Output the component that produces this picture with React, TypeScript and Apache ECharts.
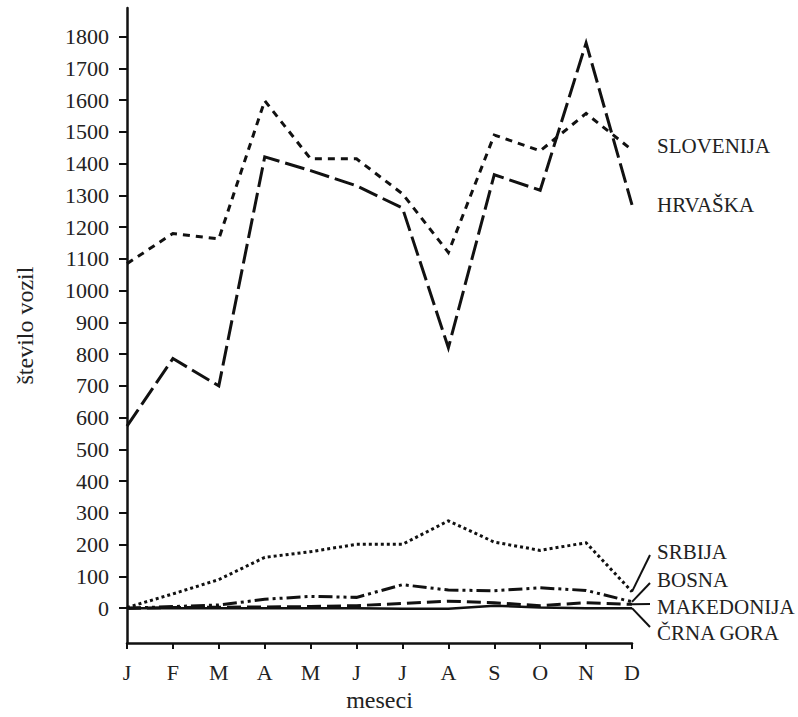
import React, { useEffect, useRef } from "react";
import * as echarts from "echarts";

const months = ["J", "F", "M", "A", "M", "J", "J", "A", "S", "O", "N", "D"];
const yTicks = [0, 100, 200, 300, 400, 500, 600, 700, 800, 900, 1000, 1100, 1200, 1300, 1400, 1500, 1600, 1700, 1800];

const slovenija = [1085, 1180, 1163, 1598, 1415, 1415, 1305, 1120, 1490, 1440, 1558, 1443];
const hrvaska = [573, 786, 700, 1421, 1378, 1330, 1260, 820, 1365, 1316, 1780, 1270];
const srbija = [2, 45, 90, 160, 178, 201, 201, 275, 208, 182, 206, 52];
const bosna = [0, 5, 10, 28, 37, 34, 74, 57, 55, 64, 56, 20];
const makedonija = [0, 2, 3, 4, 5, 8, 15, 22, 17, 8, 17, 12];
const crnaGora = [0, 0, 0, 0, 0, 0, -2, -2, 8, 2, 0, 0];

const FONT = "Liberation Serif, DejaVu Serif, serif";
const INK = "#111";
const TEXT = "#222";

export default function App() {
  const ref = useRef<HTMLDivElement>(null);

  useEffect(() => {
    if (!ref.current) return;
    const chart = echarts.init(ref.current, null, { renderer: "svg" });

    const mkSeries = (name: string, data: number[], type: any, width: number, endLabel?: any) => ({
      name,
      type: "line",
      data,
      symbol: "none",
      lineStyle: { color: INK, width, type, cap: "butt", join: "miter" },
      z: 3,
      endLabel: endLabel || { show: false },
    });

    const endLbl = (offsetY: number) => ({
      show: true,
      formatter: "{a}",
      distance: 25,
      offset: [0, offsetY],
      color: TEXT,
      fontFamily: FONT,
      fontSize: 21,
    });

    chart.setOption({
      animation: false,
      backgroundColor: "#fff",
      textStyle: { fontFamily: FONT },
      grid: { left: 127, right: 166, top: 8, height: 644, containLabel: false },
      xAxis: {
        type: "category",
        data: months,
        boundaryGap: false,
        name: "meseci",
        nameLocation: "middle",
        nameGap: 37,
        nameTextStyle: { color: TEXT, fontFamily: FONT, fontSize: 24 },
        axisLine: { onZero: false, lineStyle: { color: INK, width: 2.5 } },
        axisTick: { show: true, inside: false, length: 6, alignWithLabel: true, lineStyle: { color: INK, width: 2 } },
        axisLabel: { color: TEXT, fontFamily: FONT, fontSize: 22, margin: 18, interval: 0 },
        splitLine: { show: false },
      },
      yAxis: {
        type: "value",
        min: -110,
        max: 1890,
        name: "število vozil",
        nameLocation: "middle",
        nameGap: 90,
        nameTextStyle: { color: TEXT, fontFamily: FONT, fontSize: 24 },
        axisLine: { show: true, lineStyle: { color: INK, width: 2.5 } },
        axisTick: { show: true, inside: false, length: 8, customValues: yTicks, lineStyle: { color: INK, width: 2 } },
        axisLabel: {
          color: TEXT,
          fontFamily: FONT,
          fontSize: 22,
          margin: 18,
          customValues: yTicks,
          formatter: (v: number) => String(v),
        },
        splitLine: { show: false },
      },
      series: [
        mkSeries("SLOVENIJA", slovenija, [7, 6], 3, endLbl(-4)),
        mkSeries("HRVAŠKA", hrvaska, [20, 6], 3, endLbl(0)),
        mkSeries("SRBIJA", srbija, [3, 3], 3),
        mkSeries("BOSNA", bosna, [14, 4, 3, 4, 3, 4], 3),
        mkSeries("MAKEDONIJA", makedonija, [14, 6], 3),
        mkSeries("ČRNA GORA", crnaGora, "solid", 2.5),
      ],
    });

    const callouts = [
      { name: "SRBIJA", idx: 2, data: srbija, textY: 552, end: [650, 555] },
      { name: "BOSNA", idx: 3, data: bosna, textY: 580, end: [650, 583] },
      { name: "MAKEDONIJA", idx: 4, data: makedonija, textY: 607, end: [650, 604] },
      { name: "ČRNA GORA", idx: 5, data: crnaGora, textY: 633, end: [650, 627] },
    ];
    const graphics: any[] = [];
    callouts.forEach((c) => {
      const last = c.data.length - 1;
      const p = chart.convertToPixel({ seriesIndex: c.idx }, [last, c.data[last]]) as number[];
      graphics.push({
        type: "line",
        shape: { x1: p[0], y1: p[1], x2: c.end[0], y2: c.end[1] },
        style: { stroke: INK, lineWidth: 2 },
        z: 10,
      });
      graphics.push({
        type: "text",
        x: 657,
        y: c.textY,
        style: {
          text: c.name,
          fill: TEXT,
          fontFamily: FONT,
          fontSize: 21,
          verticalAlign: "middle",
          align: "left",
        },
        z: 10,
      });
    });
    chart.setOption({ graphic: graphics });

    return () => chart.dispose();
  }, []);

  return (
    <div
      ref={ref}
      style={{ position: "fixed", left: 0, top: 0, width: 798, height: 717, background: "#fff" }}
    />
  );
}
